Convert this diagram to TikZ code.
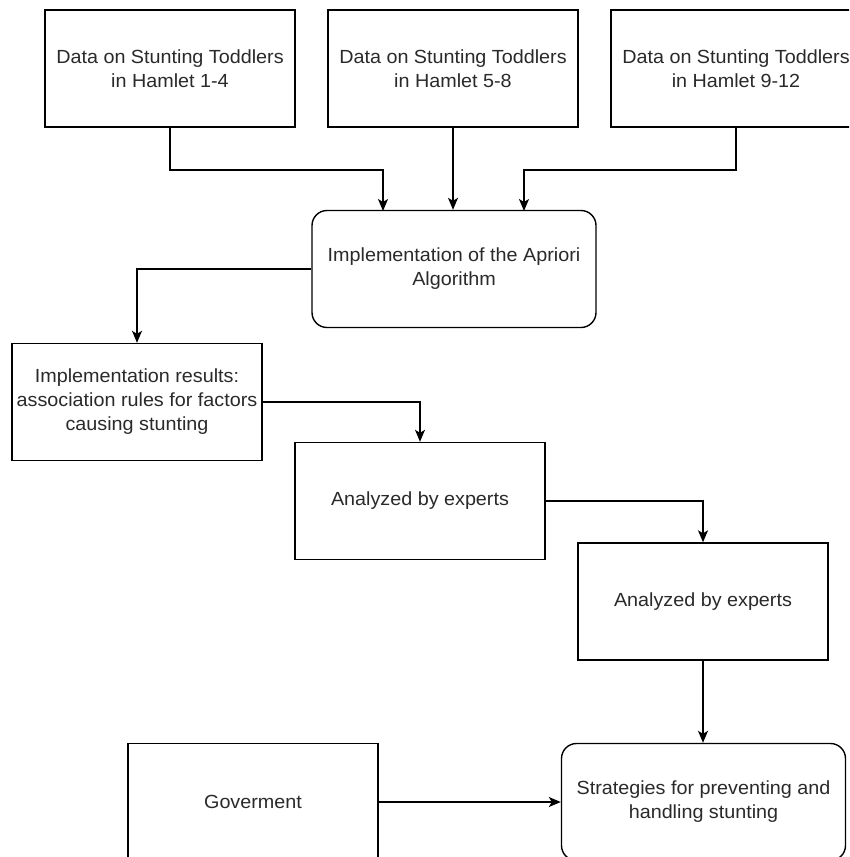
\documentclass[tikz,border=0pt]{standalone}
\usepackage{fontspec}
\setmainfont{Liberation Sans}[FakeStretch=1.04]
\usetikzlibrary{arrows.meta,positioning}
\definecolor{txt}{HTML}{2A2A2A}
\tikzset{
  box/.style={draw=black, line width=1.4pt, rectangle, minimum width=250pt, minimum height=117pt, align=center, inner sep=0pt, text=txt, font=\fontsize{19}{24}\selectfont},
  rbox/.style={box, rounded corners=15pt, minimum width=284pt},
  conn/.style={draw=black, line width=1.4pt, -{Stealth[length=12pt,width=10pt,inset=3pt]}}
}
\begin{document}
\begin{tikzpicture}[x=1pt,y=-1pt]
\clip (0,0) rectangle (849,857);
\fill[white] (0,0) rectangle (849,857);
\node[box] (d1) at (170,68.5) {Data on Stunting Toddlers\\in Hamlet 1-4};
\node[box] (d2) at (453,68.5) {Data on Stunting Toddlers\\in Hamlet 5-8};
\node[box] (d3) at (736,68.5) {Data on Stunting Toddlers\\in Hamlet 9-12};
\node[rbox] (apr) at (454,269) {Implementation of the Apriori\\Algorithm};
\node[box] (res) at (137,402) {Implementation results:\\association rules for factors\\causing stunting};
\node[box] (e1) at (420,501) {Analyzed by experts};
\node[box] (e2) at (703,601.5) {Analyzed by experts};
\node[rbox] (str) at (703.5,802) {Strategies for preventing and\\handling stunting};
\node[box] (gov) at (253,802) {Goverment};
\coordinate (a1) at (383,211);
\coordinate (a3) at (524,211);
\draw[conn] (d1.south) |- (276,170) -| (a1);
\draw[conn] (d2.south) -- (d2.south |- apr.north);
\draw[conn] (d3.south) |- (630,170) -| (a3);
\draw[conn] (apr.west) -| (res.north);
\draw[conn] (res.east) -| (e1.north);
\draw[conn] (e1.east) -| (e2.north);
\draw[conn] (e2.south) -- (str.north -| e2.south);
\draw[conn] (gov.east) -- (str.west);
\end{tikzpicture}
\end{document}
